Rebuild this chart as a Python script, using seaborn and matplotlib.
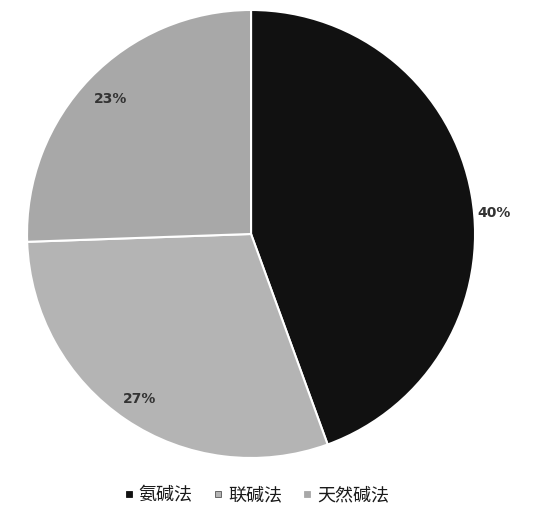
import matplotlib
matplotlib.use('Agg')
import matplotlib.pyplot as plt
from matplotlib.lines import Line2D
import seaborn as sns
import numpy as np

sns.set_theme(style='white')
plt.rcParams['font.family'] = ['Noto Sans CJK SC', 'DejaVu Sans']

categories = ['氨碱法', '联碱法', '天然碱法']
values = [40, 27, 23]
pct_labels = ['40%', '27%', '23%']
colors = ['#111111', '#b4b4b4', '#a8a8a8']
edge_cols = ['#111111', '#555555', '#a8a8a8']
label_dist = [1.09, 0.89, 0.87]
label_shift = [-5, 0, 0]  # degrees

fig = plt.figure(figsize=(5.34, 5.23), dpi=100)
ax = fig.add_axes([0.0506, 0.1243, 0.839, 0.8566])

wedges, _ = ax.pie(values, colors=colors, startangle=90, counterclock=False,
                   wedgeprops={'edgecolor': 'white', 'linewidth': 1.5})
ax.set_xlim(-1, 1)
ax.set_ylim(-1, 1)
ax.set_aspect('equal')

for w, lab, d, s in zip(wedges, pct_labels, label_dist, label_shift):
    ang = np.deg2rad((w.theta1 + w.theta2) / 2 + s)
    ax.text(d * np.cos(ang), d * np.sin(ang), lab, ha='center', va='center',
            fontsize=10, fontweight='bold', color='#333333', family='DejaVu Sans')

handles = [Line2D([], [], marker='s', linestyle='none', markersize=5,
                  markerfacecolor=c, markeredgecolor=e, markeredgewidth=0.6)
           for c, e in zip(colors, edge_cols)]
fig.legend(handles, categories, loc='center', bbox_to_anchor=(0.478, 0.052), ncol=3,
           frameon=False, fontsize=13, handletextpad=0.15, columnspacing=1.0,
           handlelength=0.8, labelcolor='#1a1a1a')

fig.savefig('out.png', dpi=100)
